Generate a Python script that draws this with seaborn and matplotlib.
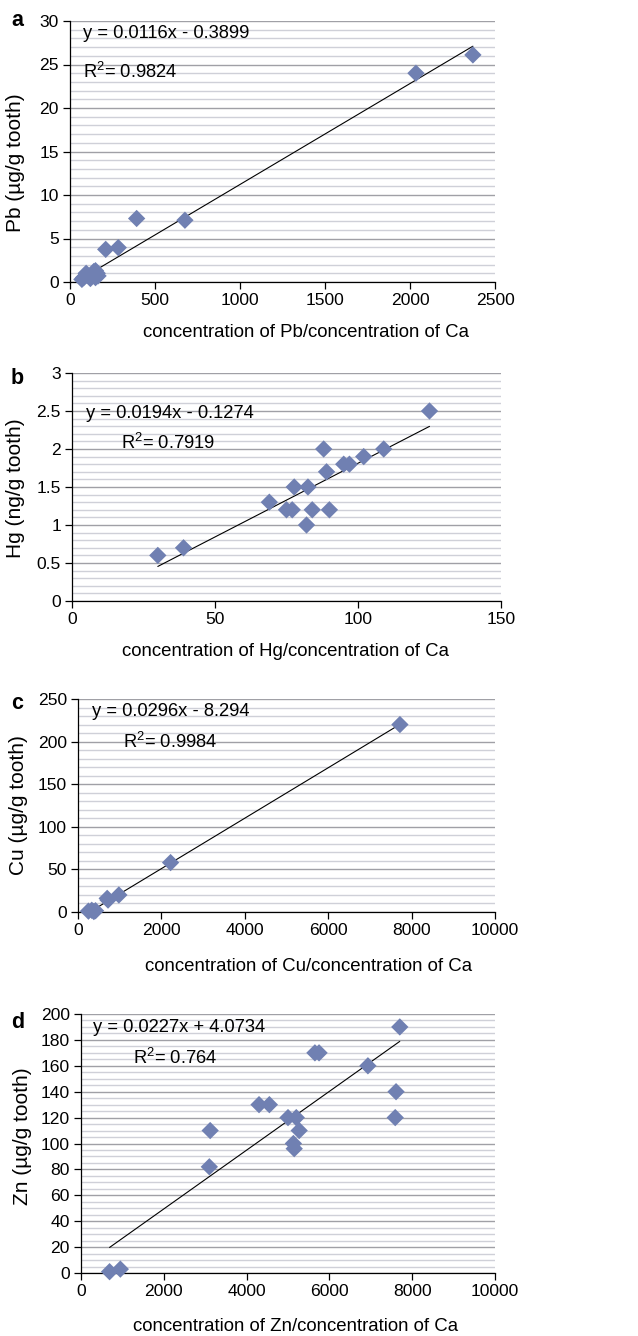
import matplotlib
matplotlib.use("Agg")
import matplotlib.pyplot as plt
import seaborn as sns
import numpy as np
import pandas as pd
from matplotlib.ticker import MultipleLocator, FuncFormatter

# ---------------- data ----------------
pb_x = [70, 80, 95, 100, 120, 140, 150, 160, 150, 165, 210, 284, 392, 676, 2035, 2370]
pb_y = [0.3, 0.5, 1.0, 0.8, 0.4, 1.2, 0.5, 1.0, 1.3, 0.7, 3.75, 3.95, 7.3, 7.1, 24.0, 26.1]

hg_x = [30, 39, 69, 75, 77, 77.7, 82, 82.5, 84, 88, 89, 90, 95, 97, 102, 109, 125]
hg_y = [0.6, 0.7, 1.3, 1.2, 1.2, 1.5, 1.0, 1.5, 1.2, 2.0, 1.7, 1.2, 1.8, 1.8, 1.9, 2.0, 2.5]

cu_x = [250, 330, 380, 420, 700, 720, 980, 2220, 7720]
cu_y = [1, 2, 0.5, 1.5, 16, 14, 20, 58, 220]

zn_x = [690, 950, 3100, 3120, 4300, 4550, 5000, 5200, 5270, 5130, 5150, 5650, 5750, 6930, 7590, 7610, 7700]
zn_y = [1, 3, 82, 110, 130, 130, 120, 120, 110, 100, 96, 170, 170, 160, 120, 140, 190]

slopes = [0.0116, 0.0194, 0.0296, 0.0227]
intercepts = [-0.3899, -0.1274, -8.294, 4.0734]
equations = ["y = 0.0116x - 0.3899", "y = 0.0194x - 0.1274",
             "y = 0.0296x - 8.294", "y = 0.0227x + 4.0734"]
r2_labels = ["R$^2$= 0.9824", "R$^2$= 0.7919", "R$^2$= 0.9984", "R$^2$= 0.764"]
panel_letters = ["a", "b", "c", "d"]
xlabels = ["concentration of Pb/concentration of Ca",
           "concentration of Hg/concentration of Ca",
           "concentration of Cu/concentration of Ca",
           "concentration of Zn/concentration of Ca"]
ylabels = ["Pb (\u00b5g/g tooth)", "Hg (ng/g tooth)",
           "Cu (\u00b5g/g tooth)", "Zn (\u00b5g/g tooth)"]
xlims = [(0, 2500), (0, 150), (0, 10000), (0, 10000)]
ylims = [(0, 30), (0, 3), (0, 250), (0, 200)]
xmajor = [500, 50, 2000, 2000]
ymajor = [5, 0.5, 50, 20]
yminor = [1, 0.1, 10, 5]

# ---------------- style ----------------
sns.set_style("white")
plt.rcParams["font.family"] = ["Liberation Sans", "DejaVu Sans"]
plt.rcParams["mathtext.default"] = "regular"
plt.rcParams["text.color"] = "black"
plt.rcParams["axes.labelcolor"] = "black"
plt.rcParams["xtick.color"] = "black"
plt.rcParams["ytick.color"] = "black"

W, H = 638, 1336
fig = plt.figure(figsize=(W / 100, H / 100), dpi=100)

# axes boxes in pixels: left, right, top, bottom
boxes = [(70, 495, 21, 282), (72, 501, 373, 601), (78, 495, 699, 912), (81, 495, 1014, 1273)]
xlabel_pos = [(0.556, -0.160), (0.497, -0.184), (0.552, -0.216), (0.519, -0.174)]
ylabel_pos = [(-0.106, 0.458), (-0.110, 0.496), (-0.120, 0.502), (-0.118, 0.529)]
letter_pos = [(11, 21), (11, 378), (11, 703), (11, 1022)]
eq_pos = [(83, 33), (86, 413), (92, 712), (93, 1028)]
r2_pos = [(83, 72), (121, 443), (123, 742), (133, 1058)]

xs = [pb_x, hg_x, cu_x, zn_x]
ys = [pb_y, hg_y, cu_y, zn_y]

marker_color = "#7080B2"
fmt = FuncFormatter(lambda v, p: "{:g}".format(round(v, 6)))

for i in range(4):
    l, r, t, b = boxes[i]
    ax = fig.add_axes([l / W, 1 - b / H, (r - l) / W, (b - t) / H])
    df = pd.DataFrame({"x": xs[i], "y": ys[i]})
    ax.set_xlim(*xlims[i])
    ax.set_ylim(*ylims[i])
    ax.yaxis.set_major_locator(MultipleLocator(ymajor[i]))
    ax.yaxis.set_minor_locator(MultipleLocator(yminor[i]))
    ax.xaxis.set_major_locator(MultipleLocator(xmajor[i]))
    ax.yaxis.set_major_formatter(fmt)
    ax.xaxis.set_major_formatter(fmt)
    ax.grid(which="minor", axis="y", color="#CFD0D8", lw=1.0, zorder=0)
    ax.grid(which="major", axis="y", color="#A0A0A6", lw=1.0, zorder=0)
    ax.set_axisbelow(True)

    xx = np.array([min(xs[i]), max(xs[i])])
    ax.plot(xx, slopes[i] * xx + intercepts[i], color="black", lw=0.8, zorder=2)

    sns.scatterplot(data=df, x="x", y="y", marker="D", s=78, color=marker_color,
                    edgecolor="none", linewidth=0, ax=ax, zorder=3, clip_on=False)

    for side in ["top", "right"]:
        ax.spines[side].set_visible(False)
    for side in ["left", "bottom"]:
        ax.spines[side].set_color("black")
        ax.spines[side].set_linewidth(0.9)
    ax.tick_params(which="major", direction="out", length=5, width=0.9,
                   color="black", labelcolor="black", labelsize=12.6, pad=3,
                   bottom=True, left=True)
    ax.tick_params(which="minor", length=0)

    ax.set_xlabel(xlabels[i], fontsize=13.4, color="black")
    ax.set_ylabel(ylabels[i], fontsize=15, color="black")
    ax.xaxis.set_label_coords(*xlabel_pos[i])
    ax.yaxis.set_label_coords(*ylabel_pos[i])

    fig.text(letter_pos[i][0] / W, 1 - letter_pos[i][1] / H, panel_letters[i],
             fontsize=15.5, fontweight="bold", ha="left", va="center", color="black")
    fig.text(eq_pos[i][0] / W, 1 - eq_pos[i][1] / H, equations[i],
             fontsize=13.2, ha="left", va="center", color="black")
    fig.text(r2_pos[i][0] / W, 1 - r2_pos[i][1] / H, r2_labels[i],
             fontsize=13.2, ha="left", va="center", color="black")

fig.savefig("out.png", dpi=100, facecolor="white")
